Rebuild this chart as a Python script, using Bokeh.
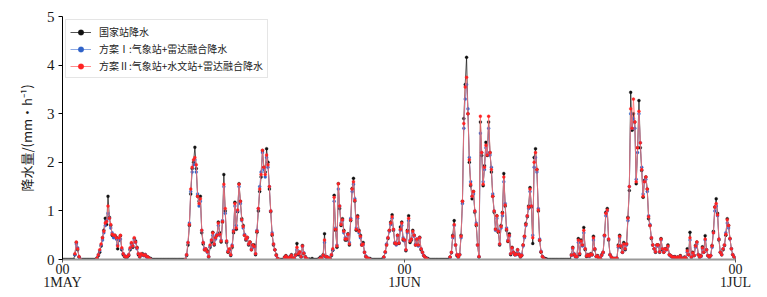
import numpy as np
from bokeh.plotting import figure
from bokeh.models import Range1d, FixedTicker, Legend, LegendItem, ColumnDataSource, LinearAxis
from bokeh.embed import file_html
from bokeh.resources import INLINE

# ---------------- data (3-hourly, days since 1 May 00) ----------------
STEP_DAYS = 3 / 24
tick_days = [0, 31, 61]
tick_hours = ["00", "00", "00"]
tick_dates = ["1MAY", "1JUN", "1JUL"]
y_ticks = [0, 1, 2, 3, 4, 5]

names = ["国家站降水", "方案Ⅰ:气象站+雷达融合降水", "方案Ⅱ:气象站+水文站+雷达融合降水"]

N = None
black = [
    0, 0, 0, 0, 0, 0, 0, 0,                                  # d0
    0, 0.1, 0.35, 0.2, 0.05, 0, 0, 0,                        # d1
    0, 0, 0, 0, 0, 0, 0, 0,                                  # d2
    0, 0.03, 0.08, 0.15, 0.28, 0.45, 0.6, 0.85,              # d3
    0.72, 1.3, 0.87, 0.7, 0.5, 0.48, 0.5, 0.46,              # d4
    0.22, 0.4, 0.49, 0.2, 0.1, 0.06, 0.04, 0.05,             # d5
    0.08, 0.2, 0.33, 0.25, 0.43, 0.38, 0.25, 0.1,            # d6
    0.05, 0.1, 0.12, 0.08, 0.1, 0.06, 0.05, 0.03,            # d7
    0.02, 0, 0, 0, 0, 0, 0, 0,                               # d8
    0, 0, 0, 0, 0, 0, 0, 0,                                  # d9
    0, 0, 0, 0, 0, 0, 0, 0,                                  # d10
    0, 0, 0.08, 0.3, 0.7, 1.35, 1.87, 2.0,                   # d11
    2.31, 1.87, 1.3, 1.2, 1.3, 0.55, 0.32, 0.2,              # d12
    0.2, 0.18, 0.05, 0.25, 0.36, 0.56, 0.3, 0.45,            # d13
    0.5, 0.77, 0.55, 0.36, 0.77, 1.75, 1.0, 0.35,            # d14
    0.15, 0.2, 0.08, 0.25, 0.55, 1.18, 0.62, 0.98,           # d15
    1.56, 1.2, 0.84, 0.7, 0.5, 0.4, 0.45, 0.3,               # d16
    0.36, 0.2, 0.3, 0.3, 0.1, 0.56, 1.0, 1.4,                # d17
    1.7, 2.24, 1.9, 1.8, 2.28, 2.0, 1.45, 0.98,              # d18
    0.5, 0.3, 0.2, 0.1, 0.02, 0, 0, 0,                       # d19
    0, 0.05, 0.08, 0.03, 0.02, 0.06, 0.1, 0.03,              # d20
    0.02, 0.1, 0.33, 0.1, 0.15, 0.05, 0.29, 0.12,            # d21
    0.06, 0.02, 0, 0.01, 0, 0.02, 0, 0,                      # d22
    0, 0, 0.02, 0.05, 0.03, 0.1, 0.53, 0.05,                 # d23
    0.05, 0.03, 0.02, 0.08, 0.19, 1.32, 0.6, 0.25,           # d24
    1.56, 1.05, 0.7, 0.84, 0.6, 0.4, 0.4, 0.53,              # d25
    0.3, 0.8, 1.46, 1.67, 1.2, 0.6, 0.9, 0.6,                # d26
    0.5, 0.3, 0.35, 0.15, 0.06, 0.03, 0.02, 0.02,            # d27
    0, 0, 0, 0, 0, 0, 0, 0,                                  # d28
    0.01, 0.05, 0.15, 0.3, 0.43, 0.6, 0.77, 0.92,            # d29
    0.6, 0.33, 0.33, 0.5, 0.33, 0.67, 0.77, 0.4,             # d30
    0.4, 0.18, 0.6, 0.9, 0.35, 0.4, 0.6, 0.5,                # d31
    0.3, 0.4, 0.3, 0.46, 0.2, 0.15, 0.08, 0.05,              # d32
    0.03, 0.02, 0, 0, 0, 0, 0, 0,                            # d33
    0, 0, 0, 0, 0, 0, 0, 0,                                  # d34
    0, 0.05, 0.14, 0.5, 0.8, 0.3, 0.08, 0.05,                # d35
    0.1, 0.5, 1.2, 2.9, 3.6, 4.16, 3.0, 2.0,                 # d36
    1.52, 1.25, 1.4, 0.97, 0.7, 0.3, 0.05, 2.83,             # d37
    2.14, 1.52, 1.93, 2.41, 2.14, 2.83, 2.2, 1.8,            # d38
    1.3, 0.97, 0.63, 0.9, 0.56, 0.3, 0.7, 0.97,              # d39
    1.77, 1.1, 0.6, 0.37, 0.53, 0.1, 0.25, 0.15,             # d40
    0.1, 0.12, 0.2, 0.1, 0.05, 0.08, 0.3, 0.48,              # d41
    0.74, 0.88, 1.1, 1.48, 1.08, 0.33, 2.1, 2.28,            # d42
    1.85, 1.0, 0.39, 0.15, 0.06, 0.03, 0.02, 0.01,           # d43
    0, 0, 0, 0, 0, 0, 0, 0,                                  # d44
    0, 0, 0, 0, 0, 0, 0, 0,                                  # d45
    0, 0.1, 0.25, 0.1, 0.06, 0.05, 0.43, 0.1,                # d46
    0.4, 0.3, 0.66, 0.2, 0.06, 0.1, 0.08, 0.12,              # d47
    0.1, 0.48, 0.2, 0.06, 0.08, 0.03, 0.02, 0.1,             # d48
    0.15, 0.5, 0.97, 1.05, 0.4, 0.1, 0.05, 0.02,             # d49
    0.02, 0.02, 0.02, 0.3, 0.5, 0.25, 0.15, 0.35,            # d50
    0.2, 0.32, 0.87, 1.42, 3.44, 2.66, 3.0, 2.83,            # d51
    1.56, 2.3, 3.27, 2.3, 1.83, 1.28, 1.63, 1.7,             # d52
    1.45, 0.84, 0.7, 0.43, 0.3, 0.22, 0.15, 0.3,             # d53
    0.3, 0.15, 0.43, 0.2, 0.15, 0.22, 0.22, 0.3,             # d54
    0.1, 0.08, 0.06, 0.05, 0.06, 0.03, 0.05, 0.02,           # d55
    0.08, 0.03, 0.02, 0.05, 0.03, 0.22, 0.1, 0.56,           # d56
    0.05, 0.15, 0.08, 0.29, 0.36, 0.1, 0.05, 0.08,           # d57
    0.26, 0.15, 0.49, 0.2, 0.08, 0.05, 0.08, 0.29,           # d58
    0.58, 1.08, 1.25, 0.95, 0.4, 0.15, 0.1, 0.2,             # d59
    0.29, 0.5, 0.84, 0.7, 0.43, 0.22, 0.1, 0.05,             # d60
    0,
]

blue = [
    N, N, N, N, N, N, N, N,                                  # d0
    N, 0.1, 0.32, 0.24, 0.05, 0, N, N,                       # d1
    N, N, N, N, N, N, N, N,                                  # d2
    N, 0.02, 0.1, 0.18, 0.3, 0.4, 0.55, 0.7,                 # d3
    0.8, 0.95, 0.85, 0.65, 0.55, 0.45, 0.48, 0.42,           # d4
    0.3, 0.4, 0.42, 0.22, 0.12, 0.08, 0.05, 0.06,            # d5
    0.1, 0.22, 0.3, 0.28, 0.4, 0.35, 0.22, 0.12,             # d6
    0.06, 0.1, 0.1, 0.08, 0.1, 0.05, 0.04, 0.02,             # d7
    0, N, N, N, N, N, N, N,                                  # d8
    N, N, N, N, N, N, N, N,                                  # d9
    N, N, N, N, N, N, N, N,                                  # d10
    N, 0, 0.1, 0.35, 0.75, 1.4, 1.8, 1.95,                   # d11
    2.05, 1.8, 1.35, 1.1, 1.2, 0.6, 0.35, 0.22,              # d12
    0.22, 0.15, 0.06, 0.28, 0.4, 0.5, 0.32, 0.42,            # d13
    0.52, 0.7, 0.5, 0.4, 0.8, 1.5, 0.95, 0.38,               # d14
    0.18, 0.2, 0.1, 0.3, 0.6, 1.1, 0.7, 1.0,                 # d15
    1.5, 1.15, 0.8, 0.65, 0.52, 0.42, 0.45, 0.32,            # d16
    0.34, 0.22, 0.28, 0.25, 0.12, 0.6, 1.05, 1.5,            # d17
    1.8, 2.2, 1.85, 1.7, 2.1, 1.9, 1.5, 1.0,                 # d18
    0.55, 0.32, 0.2, 0.08, 0.02, 0, N, N,                    # d19
    N, 0.03, 0.06, 0.04, 0.02, 0.05, 0.08, 0.03,             # d20
    0.02, 0.08, 0.2, 0.12, 0.15, 0.06, 0.27, 0.14,           # d21
    0.05, 0.02, 0, N, N, N, N, N,                            # d22
    N, N, 0, 0.03, 0.03, 0.08, 0.35, 0.06,                   # d23
    0.05, 0.03, 0.02, 0.1, 0.2, 1.2, 0.65, 0.3,              # d24
    1.45, 1.1, 0.75, 0.8, 0.55, 0.45, 0.42, 0.5,             # d25
    0.35, 0.85, 1.4, 1.55, 1.25, 0.65, 0.85, 0.55,           # d26
    0.45, 0.32, 0.3, 0.15, 0.07, 0.03, 0.02, 0,              # d27
    N, N, N, N, N, N, N, N,                                  # d28
    N, 0.04, 0.15, 0.32, 0.45, 0.58, 0.72, 0.85,             # d29
    0.62, 0.35, 0.3, 0.48, 0.35, 0.6, 0.7, 0.45,             # d30
    0.38, 0.2, 0.55, 0.8, 0.4, 0.42, 0.55, 0.48,             # d31
    0.32, 0.42, 0.28, 0.44, 0.22, 0.14, 0.08, 0.04,          # d32
    0.02, 0, N, N, N, N, N, N,                               # d33
    N, N, N, N, N, N, N, N,                                  # d34
    N, 0.04, 0.15, 0.45, 0.7, 0.3, 0.1, 0.05,                # d35
    0.1, 0.45, 1.15, 2.7, 3.3, 3.6, 3.1, 2.1,                # d36
    1.6, 1.3, 1.35, 1.0, 0.75, 0.3, 0.06, 2.6,               # d37
    2.2, 1.6, 1.85, 2.3, 2.2, 2.7, 2.15, 1.9,                # d38
    1.35, 1.0, 0.6, 0.85, 0.6, 0.32, 0.65, 0.9,              # d39
    1.6, 1.15, 0.65, 0.4, 0.48, 0.12, 0.22, 0.15,            # d40
    0.1, 0.1, 0.18, 0.12, 0.06, 0.1, 0.28, 0.45,             # d41
    0.7, 0.9, 1.05, 1.4, 1.1, 0.5, 1.9, 2.1,                 # d42
    1.8, 1.05, 0.42, 0.17, 0.06, 0.02, 0, N,                 # d43
    N, N, N, N, N, N, N, N,                                  # d44
    N, N, N, N, N, N, N, N,                                  # d45
    N, 0.08, 0.22, 0.12, 0.05, 0.06, 0.35, 0.12,             # d46
    0.35, 0.28, 0.55, 0.22, 0.08, 0.1, 0.06, 0.1,            # d47
    0.1, 0.4, 0.22, 0.06, 0.06, 0.03, 0.02, 0.08,            # d48
    0.14, 0.48, 0.9, 1.0, 0.42, 0.1, 0.04, 0.02,             # d49
    0.02, 0.02, 0.03, 0.25, 0.45, 0.28, 0.15, 0.3,           # d50
    0.22, 0.3, 0.8, 1.5, 3.0, 2.7, 2.9, 2.7,                 # d51
    1.65, 2.2, 3.0, 2.4, 1.9, 1.35, 1.6, 1.65,               # d52
    1.4, 0.9, 0.72, 0.45, 0.3, 0.22, 0.16, 0.28,             # d53
    0.28, 0.16, 0.4, 0.22, 0.16, 0.2, 0.2, 0.26,             # d54
    0.1, 0.07, 0.05, 0.04, 0.05, 0.03, 0.04, 0.02,           # d55
    0.06, 0.02, 0.02, 0.04, 0.03, 0.15, 0.1, 0.4,            # d56
    0.05, 0.12, 0.08, 0.25, 0.32, 0.1, 0.05, 0.06,           # d57
    0.22, 0.15, 0.4, 0.2, 0.08, 0.05, 0.08, 0.25,            # d58
    0.55, 1.0, 1.1, 0.9, 0.42, 0.15, 0.1, 0.22,              # d59
    0.3, 0.55, 0.75, 0.65, 0.42, 0.22, 0.1, 0.05,            # d60
    0,
]

red = [
    N, N, N, N, N, N, N, N,                                  # d0
    N, 0.12, 0.36, 0.22, 0.06, 0, N, N,                      # d1
    N, N, N, N, N, N, N, N,                                  # d2
    N, 0.03, 0.1, 0.2, 0.32, 0.45, 0.58, 0.75,               # d3
    0.78, 1.1, 0.85, 0.72, 0.52, 0.5, 0.5, 0.45,             # d4
    0.28, 0.45, 0.5, 0.24, 0.12, 0.07, 0.05, 0.06,           # d5
    0.1, 0.24, 0.35, 0.28, 0.45, 0.36, 0.24, 0.12,           # d6
    0.06, 0.12, 0.1, 0.09, 0.1, 0.06, 0.05, 0.02,            # d7
    0, N, N, N, N, N, N, N,                                  # d8
    N, N, N, N, N, N, N, N,                                  # d9
    N, N, N, N, N, N, N, N,                                  # d10
    N, 0, 0.1, 0.35, 0.72, 1.45, 1.9, 2.05,                  # d11
    2.1, 1.95, 1.3, 1.15, 1.25, 0.6, 0.35, 0.2,              # d12
    0.22, 0.16, 0.06, 0.3, 0.4, 0.55, 0.32, 0.45,            # d13
    0.5, 0.75, 0.52, 0.38, 0.78, 1.55, 1.05, 0.38,           # d14
    0.16, 0.22, 0.1, 0.28, 0.58, 1.15, 0.65, 1.02,           # d15
    1.55, 1.2, 0.82, 0.68, 0.5, 0.42, 0.46, 0.32,            # d16
    0.36, 0.2, 0.3, 0.27, 0.12, 0.58, 1.05, 1.45,            # d17
    1.75, 2.25, 1.9, 1.75, 2.15, 1.95, 1.5, 1.0,             # d18
    0.52, 0.32, 0.2, 0.09, 0.02, 0, N, N,                    # d19
    N, 0.04, 0.07, 0.04, 0.02, 0.05, 0.09, 0.03,             # d20
    0.02, 0.09, 0.25, 0.12, 0.16, 0.06, 0.28, 0.13,          # d21
    0.05, 0.02, 0, N, N, N, N, N,                            # d22
    N, N, 0, 0.03, 0.03, 0.09, 0.4, 0.06,                    # d23
    0.05, 0.03, 0.02, 0.1, 0.22, 1.28, 0.62, 0.28,           # d24
    1.56, 1.1, 0.72, 0.82, 0.58, 0.42, 0.42, 0.52,           # d25
    0.32, 0.82, 1.45, 1.6, 1.22, 0.62, 0.88, 0.58,           # d26
    0.48, 0.3, 0.32, 0.15, 0.06, 0.03, 0.02, 0,              # d27
    N, N, N, N, N, N, N, N,                                  # d28
    N, 0.05, 0.16, 0.3, 0.45, 0.6, 0.75, 0.88,               # d29
    0.62, 0.34, 0.32, 0.5, 0.34, 0.62, 0.75, 0.42,           # d30
    0.4, 0.2, 0.58, 0.85, 0.38, 0.42, 0.58, 0.5,             # d31
    0.3, 0.42, 0.3, 0.45, 0.22, 0.15, 0.08, 0.04,            # d32
    0.02, 0, N, N, N, N, N, N,                               # d33
    N, N, N, N, N, N, N, N,                                  # d34
    N, 0.05, 0.15, 0.48, 0.72, 0.3, 0.1, 0.05,               # d35
    0.1, 0.48, 1.2, 2.8, 3.55, 3.75, 3.0, 2.05,              # d36
    1.55, 1.3, 1.4, 1.0, 0.72, 0.3, 0.06, 2.95,              # d37
    2.2, 1.55, 1.9, 2.35, 2.15, 2.95, 2.2, 1.85,             # d38
    1.3, 1.0, 0.62, 0.9, 0.58, 0.32, 0.68, 0.95,             # d39
    1.7, 1.12, 0.62, 0.38, 0.5, 0.12, 0.24, 0.15,            # d40
    0.1, 0.11, 0.2, 0.11, 0.06, 0.09, 0.3, 0.48,             # d41
    0.72, 0.9, 1.08, 1.45, 1.1, 0.45, 2.0, 2.2,              # d42
    1.85, 1.02, 0.4, 0.16, 0.06, 0.02, 0, N,                 # d43
    N, N, N, N, N, N, N, N,                                  # d44
    N, N, N, N, N, N, N, N,                                  # d45
    N, 0.09, 0.24, 0.11, 0.06, 0.06, 0.4, 0.12,              # d46
    0.38, 0.3, 0.6, 0.22, 0.07, 0.1, 0.07, 0.11,             # d47
    0.1, 0.45, 0.22, 0.06, 0.07, 0.03, 0.02, 0.09,           # d48
    0.15, 0.5, 0.95, 1.02, 0.42, 0.1, 0.05, 0.02,            # d49
    0.02, 0.02, 0.03, 0.28, 0.48, 0.28, 0.15, 0.32,          # d50
    0.22, 0.32, 0.85, 1.5, 3.1, 2.7, 3.3, 2.83,              # d51
    1.6, 2.3, 3.05, 2.4, 1.85, 1.3, 1.6, 1.7,                # d52
    1.45, 0.88, 0.7, 0.45, 0.3, 0.22, 0.16, 0.3,             # d53
    0.3, 0.16, 0.42, 0.22, 0.15, 0.22, 0.2, 0.28,            # d54
    0.1, 0.08, 0.05, 0.05, 0.05, 0.03, 0.05, 0.02,           # d55
    0.07, 0.02, 0.02, 0.04, 0.03, 0.18, 0.1, 0.45,           # d56
    0.05, 0.14, 0.08, 0.28, 0.36, 0.1, 0.05, 0.07,           # d57
    0.24, 0.15, 0.42, 0.2, 0.08, 0.05, 0.08, 0.28,           # d58
    0.55, 1.08, 1.15, 0.92, 0.42, 0.15, 0.1, 0.22,           # d59
    0.3, 0.52, 0.82, 0.7, 0.43, 0.22, 0.1, 0.05,             # d60
    0,
]

# ---------------- figure ----------------
def arr(v):
    return np.array([np.nan if a is None else a for a in v], dtype=float)

x = np.arange(len(black)) * STEP_DAYS

p = figure(width=759, height=297, output_backend="svg", toolbar_location=None,
           x_range=Range1d(0, 61), y_range=Range1d(0, 5), x_axis_location=None,
           min_border_left=62, min_border_right=24, min_border_top=16, min_border_bottom=38)
p.outline_line_color = None
p.xgrid.visible = False
p.ygrid.visible = False
p.background_fill_color = "white"

series = [
    (black, "#111111", "#111111", 0.9, 0.8),
    (blue, "#4a78d4", "#2f62c8", 0.8, 0.8),
    (red, "#ff6f6f", "#ff2222", 0.8, 1.0),
]
items = []
for (vals, lc, mc, la, lw), nm in zip(series, names):
    src = ColumnDataSource(dict(x=x, y=arr(vals)))
    l = p.line("x", "y", source=src, line_color=lc, line_width=lw, line_alpha=la)
    s = p.scatter("x", "y", source=src, size=3, fill_color=mc, line_color=mc, line_width=0.3)
    items.append(LegendItem(label=nm, renderers=[l, s]))

legend = Legend(items=items, location="top_left", margin=3, padding=4, spacing=2,
                label_height=14, glyph_height=14, glyph_width=21, label_standoff=8,
                label_text_font="Noto Sans CJK SC", label_text_font_size="10px",
                label_text_color="#222222",
                border_line_color="#cccccc", border_line_width=1,
                background_fill_color="white", background_fill_alpha=0.9)
p.add_layout(legend)

# x axis: hour row
ax1 = LinearAxis(ticker=FixedTicker(ticks=tick_days),
                 major_label_overrides={d: h for d, h in zip(tick_days, tick_hours)})
ax1.axis_line_color = "#999999"
ax1.axis_line_width = 2
ax1.major_tick_line_color = "#555555"
ax1.major_tick_in = 0
ax1.major_tick_out = 3
ax1.minor_tick_line_color = None
ax1.major_label_text_font = "Liberation Serif"
ax1.major_label_text_font_size = "14px"
ax1.major_label_text_color = "#1a1a1a"
ax1.major_label_standoff = 1
p.add_layout(ax1, "below")

# x axis: date row
ax2 = LinearAxis(ticker=FixedTicker(ticks=tick_days),
                 major_label_overrides={d: t for d, t in zip(tick_days, tick_dates)})
ax2.axis_line_color = None
ax2.major_tick_line_color = None
ax2.major_tick_in = 0
ax2.major_tick_out = 0
ax2.minor_tick_line_color = None
ax2.major_label_text_font = "Liberation Serif"
ax2.major_label_text_font_size = "14px"
ax2.major_label_text_color = "#1a1a1a"
ax2.major_label_standoff = -2
p.add_layout(ax2, "below")

p.yaxis.ticker = FixedTicker(ticks=y_ticks)
p.yaxis.axis_line_color = "black"
p.yaxis.major_tick_in = 0
p.yaxis.major_tick_out = 4
p.yaxis.minor_tick_line_color = None
p.yaxis.major_label_text_font = "Liberation Serif"
p.yaxis.major_label_text_font_size = "15px"
p.yaxis.major_label_text_color = "#1a1a1a"
p.yaxis.major_label_standoff = 4
p.yaxis.axis_label = "降水量/(mm·h⁻¹)"
p.yaxis.axis_label_text_font = "Noto Sans CJK SC"
p.yaxis.axis_label_text_font_style = "normal"
p.yaxis.axis_label_text_font_size = "13px"
p.yaxis.axis_label_text_color = "#1a1a1a"
p.yaxis.axis_label_standoff = 8

open("out.html", "w").write(file_html(p, INLINE))
